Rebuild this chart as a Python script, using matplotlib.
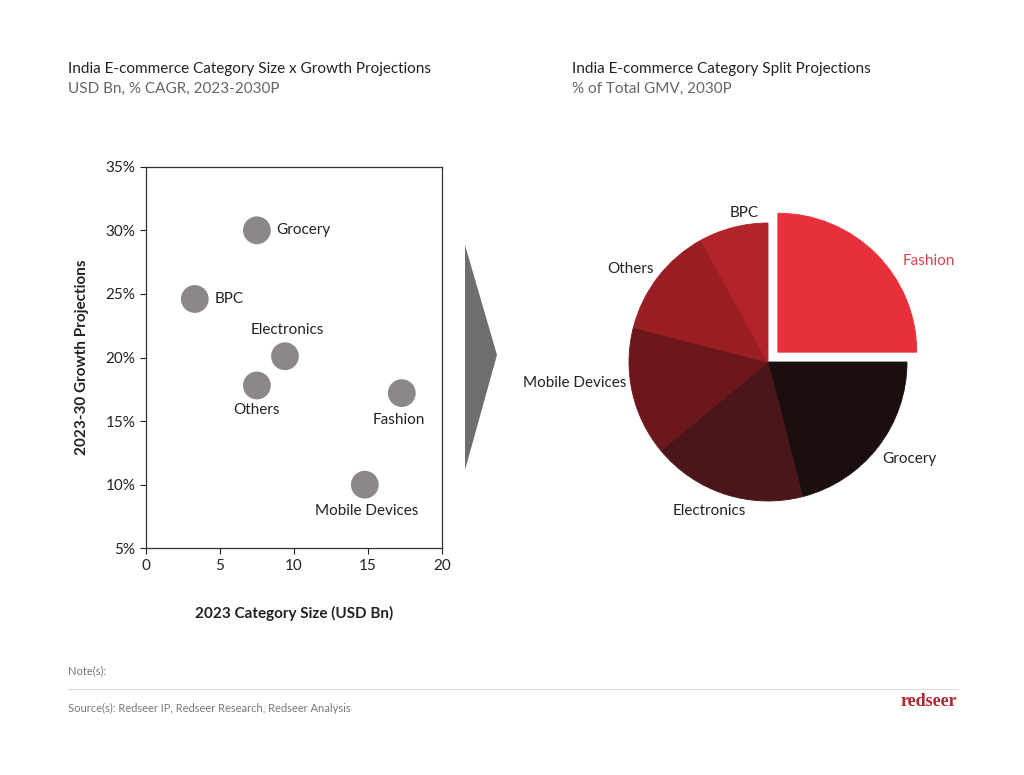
import matplotlib.pyplot as plt
from matplotlib.patches import Polygon
from matplotlib.ticker import FuncFormatter

plt.rcParams['font.family'] = ['Lato', 'DejaVu Sans']

# scatter data
categories = ['Grocery', 'BPC', 'Electronics', 'Others', 'Fashion', 'Mobile Devices']
size_2023 = [7.5, 3.3, 9.4, 7.5, 17.3, 14.8]
growth = [30.0, 24.6, 20.1, 17.8, 17.2, 10.0]

# pie data (share of 2030P GMV)
pie_labels = ['Fashion', 'Grocery', 'Electronics', 'Mobile Devices', 'Others', 'BPC']
pie_share = [25, 21, 18, 15, 13, 8]
pie_colors = ['#E8303B', '#1B0E0F', '#4A1619', '#6B171B', '#9A1E24', '#B3232A']

fig = plt.figure(figsize=(10.24, 7.75), dpi=100)
fig.patch.set_facecolor('white')

# titles
fig.text(68 / 1024, 1 - 69 / 775, 'India E-commerce Category Size x Growth Projections',
         fontsize=11, color='#222222', va='center')
fig.text(68 / 1024, 1 - 89 / 775, 'USD Bn, % CAGR, 2023-2030P',
         fontsize=11, color='#666666', va='center')
fig.text(572 / 1024, 1 - 69 / 775, 'India E-commerce Category Split Projections',
         fontsize=11, color='#222222', va='center')
fig.text(572 / 1024, 1 - 89 / 775, '% of Total GMV, 2030P',
         fontsize=11, color='#666666', va='center')

# scatter
ax = fig.add_axes([146 / 1024, 1 - 548.3 / 775, 295.7 / 1024, 381.6 / 775])
ax.scatter(size_2023, growth, s=400, color='#8c8887', edgecolors='none', zorder=3)
ax.set_xlim(0, 20)
ax.set_ylim(5, 35)
ax.set_xticks([0, 5, 10, 15, 20])
ax.set_yticks([5, 10, 15, 20, 25, 30, 35])
ax.yaxis.set_major_formatter(FuncFormatter(lambda v, p: f'{v:.0f}%'))
ax.tick_params(labelsize=11, colors='#222222', length=4, width=0.8)
for s in ax.spines.values():
    s.set_color('#333333')
    s.set_linewidth(0.9)
ax.set_xlabel('2023 Category Size (USD Bn)', fontsize=11, fontweight='bold',
              color='#222222', labelpad=24)
ax.set_ylabel('2023-30 Growth Projections', fontsize=11, fontweight='bold',
              color='#222222', labelpad=12)

offsets = {
    'Grocery': ((14, 0), 'left', 'center'),
    'BPC': ((14, 0), 'left', 'center'),
    'Electronics': ((2, 19), 'center', 'center'),
    'Others': ((0, -18), 'center', 'center'),
    'Fashion': ((-2, -19), 'center', 'center'),
    'Mobile Devices': ((1, -19), 'center', 'center'),
}
for name, x, y in zip(categories, size_2023, growth):
    off, ha, va = offsets[name]
    ax.annotate(name, (x, y), xytext=off, textcoords='offset points',
                ha=ha, va=va, fontsize=11, color='#222222')

# arrow between the charts
tri = Polygon([(465 / 1024, 1 - 245 / 775), (497 / 1024, 1 - 355 / 775),
               (465 / 1024, 1 - 470 / 775)], closed=True,
              transform=fig.transFigure, facecolor='#6e6e6c', edgecolor='none')
fig.patches.append(tri)

# pie
R = 139
half = 1.6
pax = fig.add_axes([(768 - R * half) / 1024, 1 - (362 + R * half) / 775,
                    2 * R * half / 1024, 2 * R * half / 775])
explode = [0.1 if l == 'Fashion' else 0 for l in pie_labels]
wedges, _ = pax.pie(pie_share, colors=pie_colors, startangle=90, counterclock=False,
                    explode=explode)
for w, c in zip(wedges, pie_colors):
    w.set_edgecolor(c)
    w.set_linewidth(0.6)
pax.set_xlim(-half, half)
pax.set_ylim(-half, half)
pax.set_aspect('equal')
pax.axis('off')

label_pos = {
    'Fashion': (0.97, 0.73, 'left'),
    'Grocery': (0.82, -0.70, 'left'),
    'Electronics': (-0.42, -1.07, 'center'),
    'Mobile Devices': (-1.02, -0.15, 'right'),
    'Others': (-0.82, 0.67, 'right'),
    'BPC': (-0.17, 1.07, 'center'),
}
for name in pie_labels:
    x, y, ha = label_pos[name]
    pax.text(x, y, name, ha=ha, va='center', fontsize=11,
             color='#D9434C' if name == 'Fashion' else '#222222')

# footer
fig.text(68 / 1024, 1 - 671 / 775, 'Note(s):', fontsize=8, color='#777777', va='center')
fig.add_artist(plt.Line2D([68 / 1024, 958 / 1024], [1 - 689 / 775, 1 - 689 / 775],
                          color='#dddddd', linewidth=0.8))
fig.text(68 / 1024, 1 - 708 / 775, 'Source(s): Redseer IP, Redseer Research, Redseer Analysis',
         fontsize=8, color='#777777', va='center')
fig.text(957 / 1024, 1 - 701 / 775, 'redseer', fontsize=13, fontweight='bold',
         family=['Liberation Serif', 'DejaVu Serif'], color='#B5232A', ha='right', va='center')

fig.savefig('out.png', dpi=100)
